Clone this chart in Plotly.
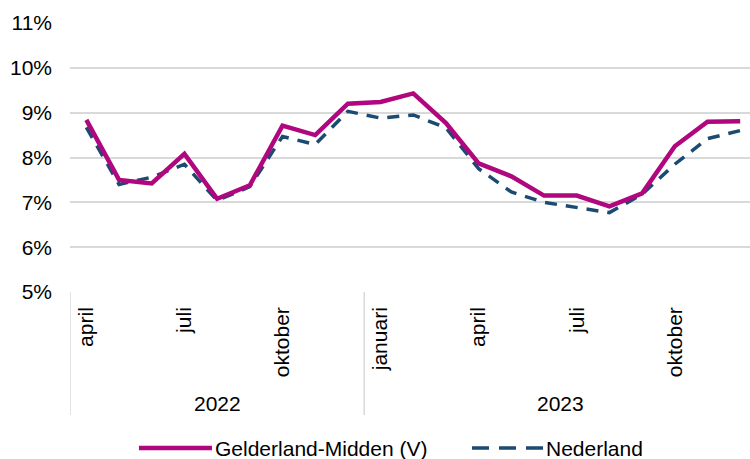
import plotly.graph_objects as go

months = ["april", "mei", "juni", "juli", "augustus", "september", "oktober", "november", "december",
          "januari", "februari", "maart", "april", "mei", "juni", "juli", "augustus", "september",
          "oktober", "november", "december"]
years = ["2022"] * 9 + ["2023"] * 12
gelderland = [8.84, 7.50, 7.42, 8.08, 7.08, 7.38, 8.71, 8.50, 9.20, 9.24, 9.43, 8.77,
              7.87, 7.58, 7.15, 7.15, 6.91, 7.20, 8.25, 8.80, 8.81]
nederland = [8.67, 7.40, 7.56, 7.85, 7.04, 7.35, 8.47, 8.29, 9.03, 8.88, 8.95, 8.66,
             7.75, 7.23, 7.00, 6.88, 6.77, 7.18, 7.85, 8.42, 8.60]
yticks = [5, 6, 7, 8, 9, 10, 11]
ytext = [f"{v}%" for v in yticks]
shown_months = {"april", "juli", "oktober", "januari"}

x = list(range(len(months)))
FONT = "Liberation Sans, Arial, sans-serif"
FS = 21
MAG = "#B0067E"
BLUE = "#1B4A72"

fig = go.Figure()
fig.add_trace(go.Scatter(x=x, y=nederland, mode="lines", name="Nederland",
                         line=dict(color=BLUE, width=3.5, dash="12px,9px"), showlegend=False))
fig.add_trace(go.Scatter(x=x, y=gelderland, mode="lines", name="Gelderland-Midden (V)",
                         line=dict(color=MAG, width=4.5), showlegend=False))

tickvals = [i for i, m in enumerate(months) if m in shown_months]
ticktext = [months[i] for i in tickvals]

fig.update_xaxes(range=[-0.5, 20.3], tickmode="array", tickvals=tickvals, ticktext=ticktext,
                 tickangle=-90, showgrid=False, zeroline=False, showline=False, ticks="",
                 ticklabelstandoff=10,
                 tickfont=dict(size=FS, color="#000000", family=FONT))
fig.update_yaxes(range=[5, 11], tickvals=yticks, ticktext=ytext, showgrid=True,
                 gridcolor="#D9D9D9", gridwidth=1.5, zeroline=False, showline=False, ticks="",
                 ticklabelstandoff=17,
                 tickfont=dict(size=FS, color="#000000", family=FONT))

# year group labels and separators
groups = []
for i, yv in enumerate(years):
    if not groups or groups[-1][0] != yv:
        groups.append([yv, i, i])
    else:
        groups[-1][2] = i
ysep = -123 / 269
for name, a, b in groups:
    fig.add_shape(type="line", xref="x", yref="paper", x0=a - 0.5, x1=a - 0.5, y0=0, y1=ysep,
                  line=dict(color="#D9D9D9", width=1.5))
    fig.add_annotation(x=(a + b) / 2, y=-111 / 269,
                       xref="x", yref="paper", text=name,
                       showarrow=False, font=dict(size=FS, color="#000000", family=FONT),
                       yanchor="middle")

# custom legend
ly = (292 - 448) / 269
fig.add_shape(type="line", xref="paper", yref="paper", x0=(139 - 70) / 680, x1=(212 - 70) / 680,
              y0=ly, y1=ly, line=dict(color=MAG, width=4.5))
fig.add_annotation(x=(214 - 70) / 680, y=ly, xref="paper", yref="paper", text="Gelderland-Midden (V)",
                   xanchor="left", yanchor="middle", showarrow=False, borderpad=0,
                   font=dict(size=FS, color="#000000", family=FONT))
fig.add_shape(type="line", xref="paper", yref="paper", x0=(472 - 70) / 680, x1=(543 - 70) / 680,
              y0=ly, y1=ly, line=dict(color=BLUE, width=3.5, dash="17px,10px"))
fig.add_annotation(x=(545 - 70) / 680, y=ly, xref="paper", yref="paper", text="Nederland",
                   xanchor="left", yanchor="middle", showarrow=False, borderpad=0,
                   font=dict(size=FS, color="#000000", family=FONT))

fig.update_layout(width=750, height=459, margin=dict(l=70, r=0, t=23, b=167, autoexpand=False),
                  paper_bgcolor="white", plot_bgcolor="white", showlegend=False,
                  font=dict(family=FONT, size=FS, color="#000000"))
fig.write_html("out.html", config={"displayModeBar": False},
               post_script="document.body.style.margin='0';")
